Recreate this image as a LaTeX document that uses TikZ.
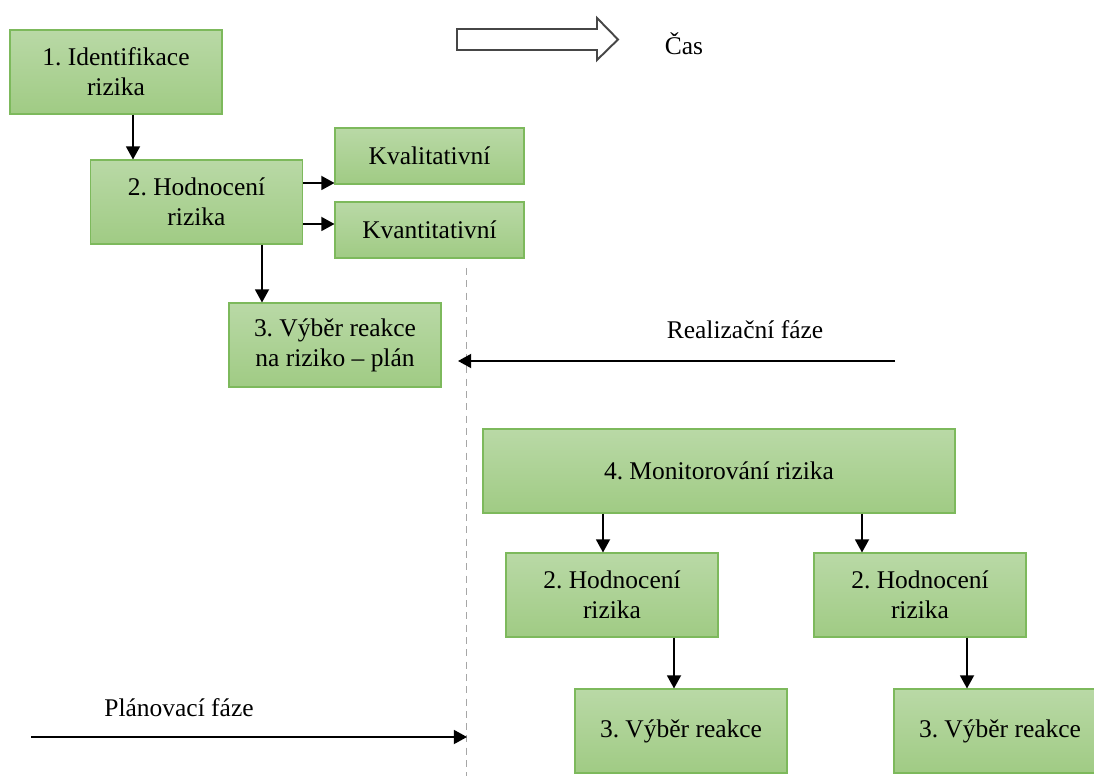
\documentclass[tikz,border=0pt]{standalone}
\usepackage{fontspec}
\setmainfont{Liberation Serif}
\usetikzlibrary{arrows.meta}
\frenchspacing

\definecolor{boxtop}{HTML}{B9D9A6}
\definecolor{boxbot}{HTML}{A0CB84}
\definecolor{boxline}{HTML}{7DB95C}

\begin{document}
\begin{tikzpicture}[
  phase/.style={draw=boxline, line width=0.6pt, top color=boxtop, bottom color=boxbot, minimum width=4.24cm, minimum height=1.68cm, align=center, font=\fontsize{14.5}{17}\selectfont, inner sep=2pt},
  method/.style={phase, minimum width=3.78cm, minimum height=1.12cm},
  phasetext/.style={font=\fontsize{14.5}{17}\selectfont, inner sep=0pt},
  arr/.style={-{Triangle[length=7.5pt, width=8pt]}, line width=0.95pt}
]
\useasboundingbox (0,0) rectangle (21.88,15.52);

% Time arrow
\draw[line width=1.1pt, draw=gray!55!black, fill=white] (9.14,14.94) -- (11.94,14.94) -- (11.94,15.16) -- (12.36,14.73) -- (11.94,14.32) -- (11.94,14.52) -- (9.14,14.52) -- cycle;
\node[phasetext] (cas) at (13.68,14.64) {Čas};

% Planning phase
\node[phase] (ident) at (2.32,14.08) {1. Identifikace\\rizika};
\node[phase] (hod) at (3.93,11.48) {2. Hodnocení\\rizika};
\node[method] (kval) at (8.59,12.4) {Kvalitativní};
\node[method] (kvant) at (8.59,10.92) {Kvantitativní};
\node[phase] (plan) at (6.7,8.62) {3. Výběr reakce\\na riziko – plán};

% Realisation phase
\node[phase, minimum width=9.44cm] (mon) at (14.38,6.1) {4. Monitorování rizika};
\node[phase] (hodA) at (12.24,3.62) {2. Hodnocení\\rizika};
\node[phase] (hodB) at (18.4,3.62) {2. Hodnocení\\rizika};
\node[phase] (vybA) at (13.62,0.9) {3. Výběr reakce};
\node[phase] (vybB) at (20.0,0.9) {3. Výběr reakce};

% Dividing line between phases
\coordinate (divTop) at (9.32,10.16);
\coordinate (divBot) at (9.32,0);
\draw[gray!70, dash pattern=on 4pt off 3pt, line width=0.5pt] (divTop) -- (divBot);

% Phase arrows
\coordinate (realStart) at (17.9,8.3);
\coordinate (realEnd) at (9.16,8.3);
\draw[arr] (realStart) -- (realEnd);
\node[phasetext] (realLbl) at (14.9,8.92) {Realizační fáze};

\coordinate (planStart) at (0.62,0.78);
\coordinate (planEnd) at (9.34,0.78);
\draw[arr] (planStart) -- (planEnd);
\node[phasetext] (planLbl) at (3.58,1.36) {Plánovací fáze};

% Connections
\draw[arr] ([xshift=3.4mm]ident.south) -- ([xshift=3.4mm]ident.south |- hod.north);
\draw[arr] ([yshift=3.8mm]hod.east) -- ([yshift=3.8mm]hod.east -| kval.west);
\draw[arr] ([yshift=-4.4mm]hod.east) -- ([yshift=-4.4mm]hod.east -| kvant.west);
\draw[arr] ([xshift=13.1mm]hod.south) -- ([xshift=13.1mm]hod.south |- plan.north);
\draw[arr] ([xshift=-23.2mm]mon.south) -- ([xshift=-23.2mm]mon.south |- hodA.north);
\draw[arr] ([xshift=28.6mm]mon.south) -- ([xshift=28.6mm]mon.south |- hodB.north);
\draw[arr] ([xshift=12.4mm]hodA.south) -- ([xshift=12.4mm]hodA.south |- vybA.north);
\draw[arr] ([xshift=9.4mm]hodB.south) -- ([xshift=9.4mm]hodB.south |- vybB.north);

\end{tikzpicture}
\end{document}
